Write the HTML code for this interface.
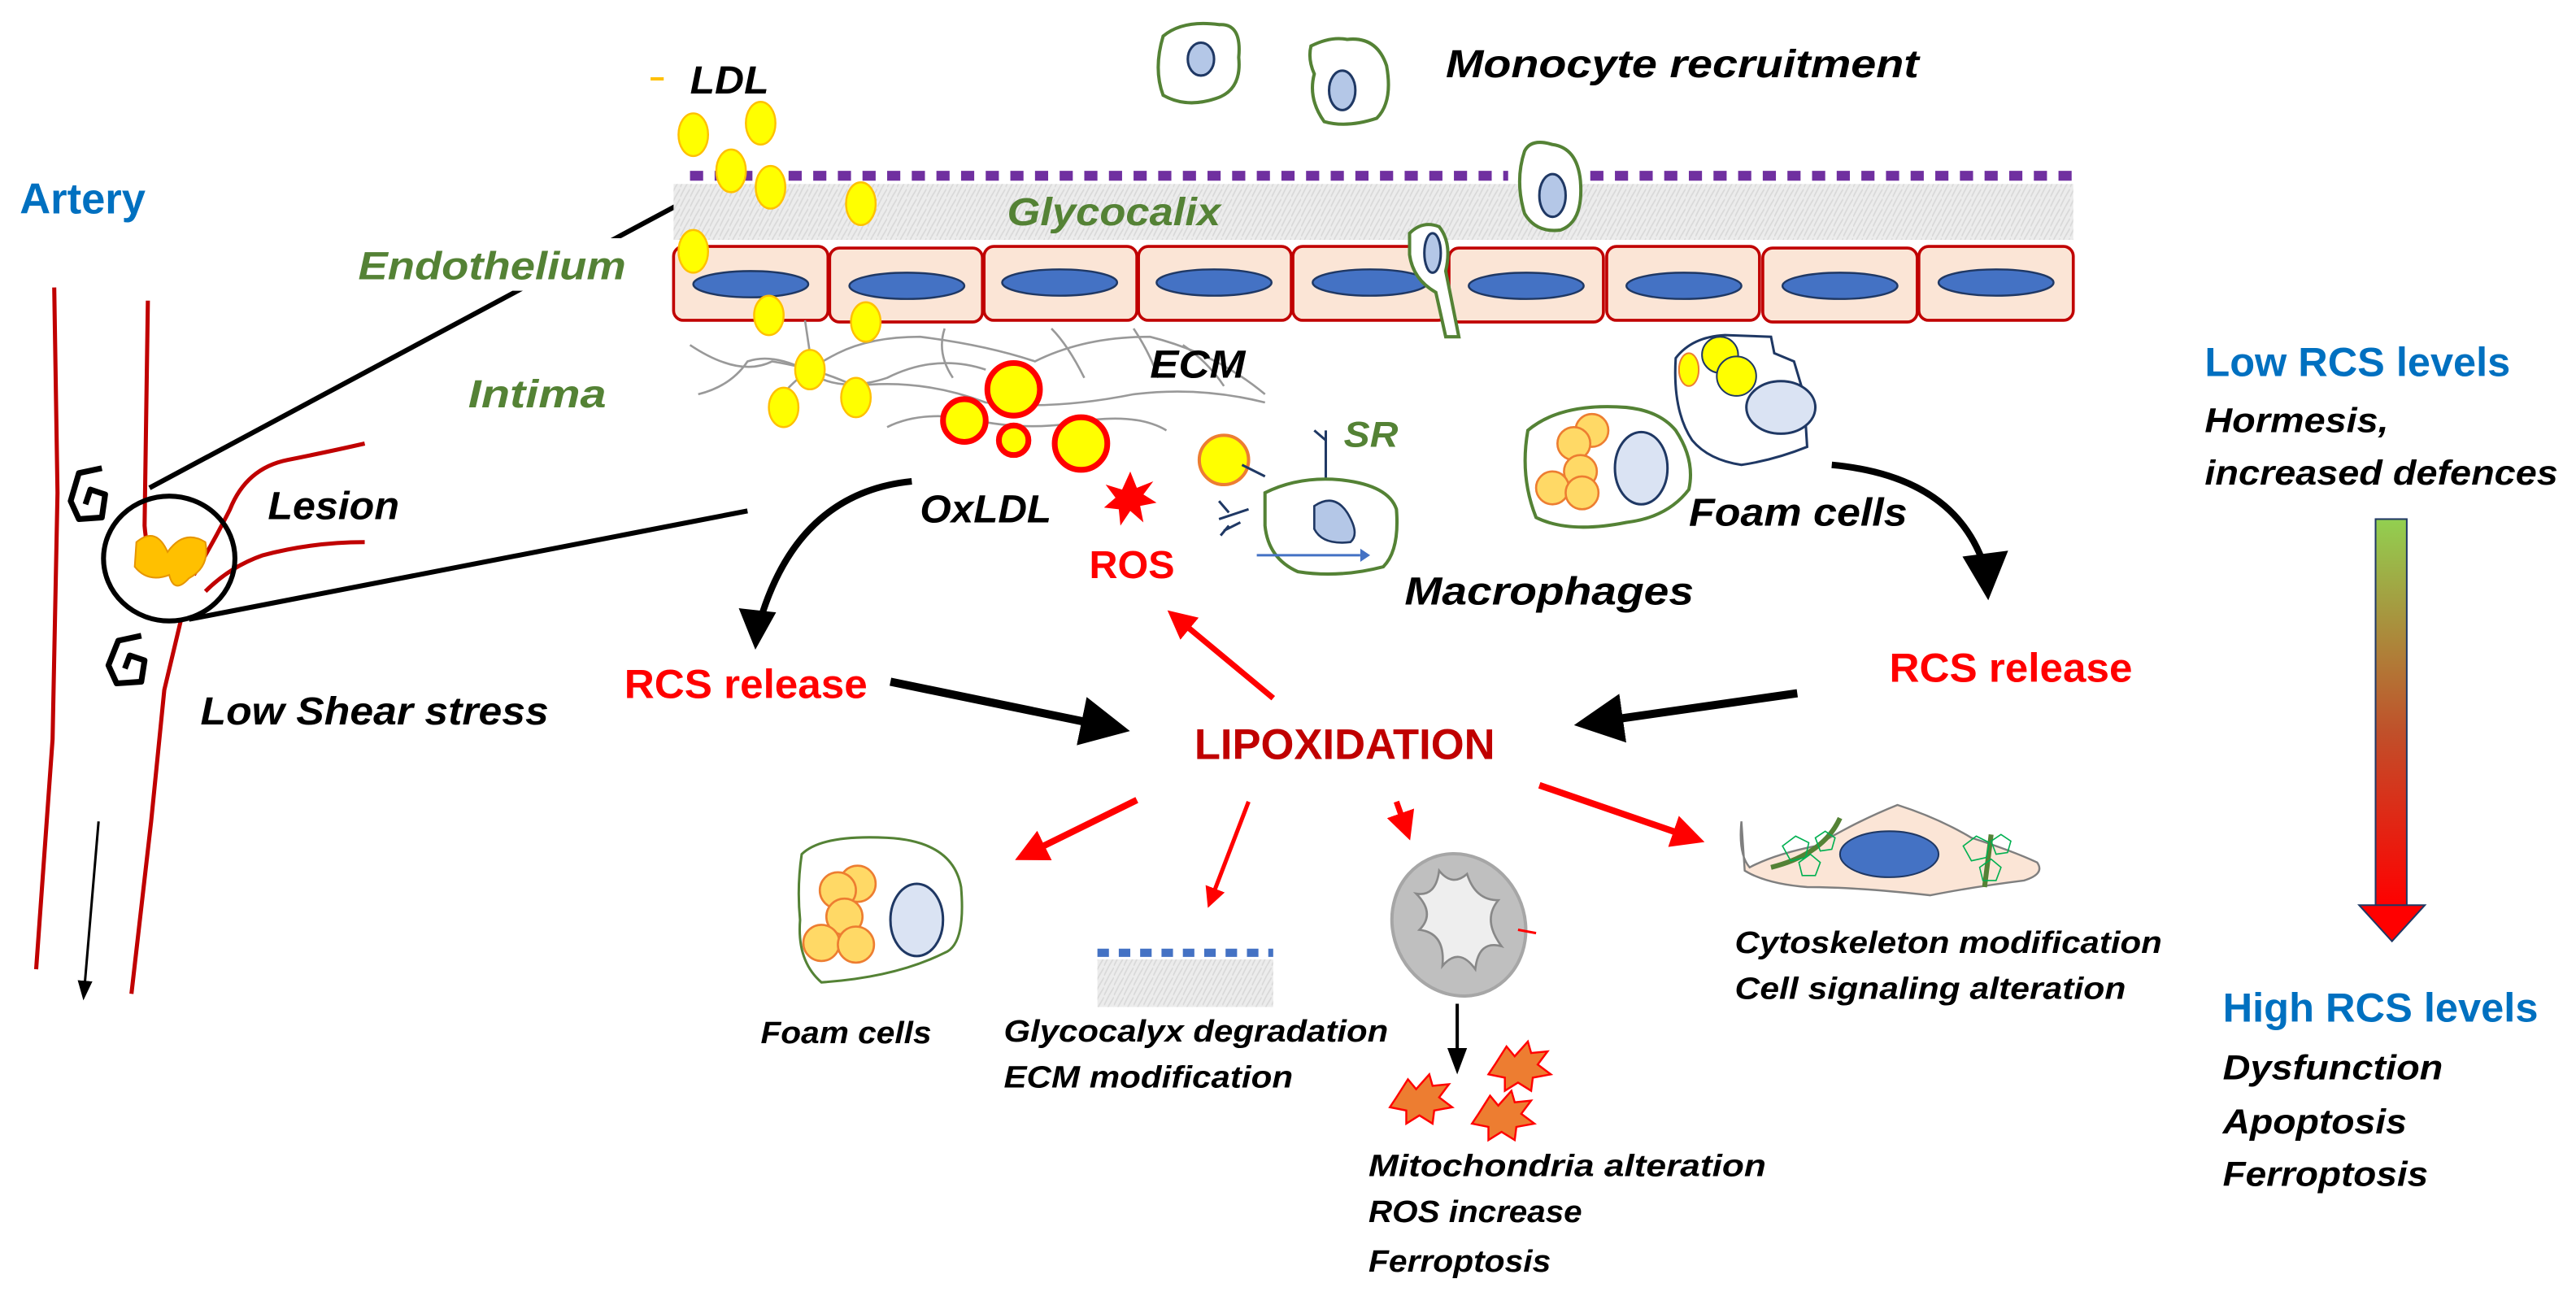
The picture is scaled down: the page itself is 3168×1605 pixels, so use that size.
<!DOCTYPE html>
<html><head><meta charset="utf-8"><style>
html,body{margin:0;padding:0;background:#fff;}
svg{display:block;}
text{font-family:"Liberation Sans",sans-serif;font-weight:bold;}
.bi{font-style:italic;}
</style></head><body>
<svg width="3168" height="1605" viewBox="0 0 1568 794.4" xmlns="http://www.w3.org/2000/svg">
<defs>
<marker id="ab" markerWidth="6" markerHeight="6" refX="4" refY="3" orient="auto" markerUnits="strokeWidth"><path d="M0,0 L6,3 L0,6 Z" fill="#000"/></marker>
<marker id="ar" markerWidth="5" markerHeight="5" refX="3" refY="2.5" orient="auto" markerUnits="strokeWidth"><path d="M0,0 L5,2.5 L0,5 Z" fill="#f00"/></marker>
<marker id="abs" markerWidth="8" markerHeight="8" refX="6" refY="4" orient="auto" markerUnits="strokeWidth"><path d="M0,1 L8,4 L0,7 Z" fill="#000"/></marker>
<linearGradient id="grad" x1="0" y1="0" x2="0" y2="1"><stop offset="0" stop-color="#92D050"/><stop offset="0.55" stop-color="#C0502A"/><stop offset="1" stop-color="#FF0000"/></linearGradient>
<pattern id="gly" width="6" height="6" patternUnits="userSpaceOnUse"><rect width="6" height="6" fill="#ececec"/><path d="M0,6 L3,0 M3,6 L6,1" stroke="#d8d8d8" stroke-width="0.8"/></pattern>
</defs>

<!-- Artery -->
<text x="12" y="130" font-size="26" fill="#0070C0">Artery</text>
<path d="M33,175 L35,300 L32,450 L22,590" stroke="#C00000" stroke-width="2.5" fill="none"/>
<path d="M90,183 L88,320 Q90,345 100,350" stroke="#C00000" stroke-width="2.5" fill="none"/>
<path d="M118,350 Q130,330 140,310 Q150,285 175,280 Q200,275 222,270" stroke="#C00000" stroke-width="2.5" fill="none"/>
<path d="M125,360 Q140,345 160,338 Q190,330 222,330" stroke="#C00000" stroke-width="2.5" fill="none"/>
<path d="M110,378 L100,420 L92,500 L80,605" stroke="#C00000" stroke-width="2.5" fill="none"/>
<path d="M62,285 L48,288 L43,305 L48,316 L62,315 L64,301 L55,298 L52,307" stroke="#000" stroke-width="3.5" fill="none" stroke-linejoin="round"/>
<path d="M86,387 L72,390 L66,405 L71,416 L86,415 L88,402 L79,399 L76,407" stroke="#000" stroke-width="3.5" fill="none" stroke-linejoin="round"/>
<path d="M83,330 Q95,320 102,336 Q112,322 125,330 Q128,345 115,352 Q106,362 103,350 Q90,355 82,345 Z" fill="#FFC000" stroke="#E69500" stroke-width="1"/>
<ellipse cx="103" cy="340" rx="40" ry="38" fill="none" stroke="#000" stroke-width="3"/>
<line x1="91" y1="297" x2="429" y2="116" stroke="#000" stroke-width="3"/>
<line x1="115" y1="377" x2="455" y2="311" stroke="#000" stroke-width="3"/>
<rect x="215" y="145" width="170" height="32" fill="#fff"/>
<text class="bi" x="218" y="170" font-size="24" fill="#548235" textLength="163" lengthAdjust="spacingAndGlyphs">Endothelium</text>
<text class="bi" x="285" y="248" font-size="24" fill="#548235" textLength="84" lengthAdjust="spacingAndGlyphs">Intima</text>
<text class="bi" x="163" y="316" font-size="24" fill="#000" textLength="80" lengthAdjust="spacingAndGlyphs">Lesion</text>
<text class="bi" x="122" y="441" font-size="24" fill="#000" textLength="212" lengthAdjust="spacingAndGlyphs">Low Shear stress</text>
<line x1="60" y1="500" x2="51" y2="606" stroke="#000" stroke-width="1.5" marker-end="url(#abs)"/>

<!-- glycocalix & endothelium -->
<rect x="410" y="112" width="852" height="34" fill="url(#gly)"/>
<line x1="420" y1="107" x2="918" y2="107" stroke="#7030A0" stroke-width="6" stroke-dasharray="8,7"/>
<line x1="968" y1="107" x2="1262" y2="107" stroke="#7030A0" stroke-width="6" stroke-dasharray="8,7"/>
<text class="bi" x="613" y="137" font-size="24" fill="#548235" textLength="130" lengthAdjust="spacingAndGlyphs">Glycocalix</text>
<g fill="#FBE5D6" stroke="#C00000" stroke-width="1.8">
<rect x="410" y="150" width="94" height="45" rx="6"/>
<rect x="505" y="151" width="93" height="45" rx="6"/>
<rect x="599" y="150" width="93" height="45" rx="6"/>
<rect x="693" y="150" width="93" height="45" rx="6"/>
<rect x="787" y="150" width="94" height="45" rx="6"/>
<rect x="882" y="151" width="94" height="45" rx="6"/>
<rect x="978" y="150" width="93" height="45" rx="6"/>
<rect x="1073" y="151" width="94" height="45" rx="6"/>
<rect x="1168" y="150" width="94" height="45" rx="6"/>
</g>
<g fill="#4472C4" stroke="#1F3864" stroke-width="1.2">
<ellipse cx="457" cy="173" rx="35" ry="8"/><ellipse cx="552" cy="174" rx="35" ry="8"/>
<ellipse cx="645" cy="172" rx="35" ry="8"/><ellipse cx="739" cy="172" rx="35" ry="8"/>
<ellipse cx="834" cy="172" rx="35" ry="8"/><ellipse cx="929" cy="174" rx="35" ry="8"/>
<ellipse cx="1025" cy="174" rx="35" ry="8"/><ellipse cx="1120" cy="174" rx="35" ry="8"/>
<ellipse cx="1215" cy="172" rx="35" ry="8"/>
</g>

<!-- monocytes -->
<g fill="#fff" stroke="#548235" stroke-width="2">
<path d="M708,22 Q720,12 742,15 Q756,14 754,35 Q756,55 740,60 Q722,66 708,58 Q702,42 708,22 Z"/>
<path d="M798,28 Q810,22 820,24 Q838,22 844,40 Q848,62 838,72 Q820,78 806,74 Q796,60 800,45 Q796,36 798,28 Z"/>
<path d="M928,92 Q932,84 945,88 Q960,90 962,110 Q964,135 950,140 Q935,142 928,130 Q922,110 928,92 Z"/>
<path d="M858,142 Q866,134 876,138 Q884,148 880,165 L888,205 L880,205 L874,178 Q860,170 858,155 Z"/>
</g>
<g fill="#B4C7E7" stroke="#1F3864" stroke-width="1.5">
<ellipse cx="731" cy="36" rx="8" ry="10"/><ellipse cx="817" cy="55" rx="8" ry="12"/>
<ellipse cx="945" cy="119" rx="8" ry="13"/><ellipse cx="872" cy="154" rx="5" ry="12"/>
</g>
<text class="bi" x="880" y="47" font-size="24" fill="#000" textLength="288" lengthAdjust="spacingAndGlyphs">Monocyte recruitment</text>

<!-- LDL -->
<text class="bi" x="420" y="57" font-size="24" fill="#000" textLength="48" lengthAdjust="spacingAndGlyphs">LDL</text>
<line x1="396" y1="48" x2="404" y2="48" stroke="#FFC000" stroke-width="2"/>
<g stroke="#999" stroke-width="1.3" fill="none">
<path d="M420,210 Q450,230 470,220 Q500,225 520,235 Q560,230 600,245 Q640,250 690,240 Q730,235 770,245"/>
<path d="M425,240 Q445,235 455,220 Q470,215 490,225 Q510,240 540,230 Q570,215 600,225"/>
<path d="M470,250 Q480,230 510,215 Q530,205 560,205 Q600,210 630,220 Q660,205 700,205 Q740,215 770,240"/>
<path d="M540,260 Q560,250 590,255 Q620,262 650,258 Q690,250 710,262"/>
<path d="M490,195 L493,215 M640,200 Q650,210 660,230 M690,200 Q700,215 705,230 M575,200 Q570,215 580,230 M720,210 Q735,220 745,235"/>
</g>
<g fill="#FFFF00" stroke="#FFC000" stroke-width="1.2">
<ellipse cx="422" cy="82" rx="9" ry="13"/><ellipse cx="463" cy="75" rx="9" ry="13"/>
<ellipse cx="445" cy="104" rx="9" ry="13"/><ellipse cx="469" cy="114" rx="9" ry="13"/>
<ellipse cx="524" cy="124" rx="9" ry="13"/><ellipse cx="422" cy="153" rx="9" ry="13"/>
<ellipse cx="468" cy="192" rx="9" ry="12"/><ellipse cx="527" cy="196" rx="9" ry="12"/>
<ellipse cx="493" cy="225" rx="9" ry="12"/><ellipse cx="477" cy="248" rx="9" ry="12"/>
<ellipse cx="521" cy="242" rx="9" ry="12"/>
</g>
<text class="bi" x="700" y="230" font-size="24" fill="#000" textLength="58" lengthAdjust="spacingAndGlyphs">ECM</text>
<g fill="#FFFF00" stroke="#f00" stroke-width="3.5">
<circle cx="617" cy="237" r="16"/><circle cx="587" cy="256" r="13"/>
<circle cx="617" cy="268" r="9"/><circle cx="658" cy="270" r="16"/>
</g>
<text class="bi" x="560" y="318" font-size="24" fill="#000" textLength="80" lengthAdjust="spacingAndGlyphs">OxLDL</text>
<path d="M688,287 L692,297 L702,293 L696,301 L704,306 L694,308 L696,318 L688,311 L682,320 L681,310 L672,309 L679,303 L673,295 L683,298 Z" fill="#f00"/>
<text x="663" y="352" font-size="24" fill="#f00" textLength="52" lengthAdjust="spacingAndGlyphs">ROS</text>

<!-- macrophage SR -->
<circle cx="745" cy="280" r="15" fill="#FFFF00" stroke="#ED7D31" stroke-width="2"/>
<g stroke="#1F3864" stroke-width="1.5" fill="none">
<path d="M756,283 L770,290 M742,316 L760,310 M745,323 L755,318 M807,262 L807,293 M800,262 L807,268 M748,312 L742,305 M748,320 L743,326"/>
</g>
<path d="M770,300 Q790,290 815,292 Q845,295 850,310 Q852,335 842,345 Q815,352 790,348 Q772,340 770,320 Z" fill="#fff" stroke="#548235" stroke-width="2"/>
<path d="M800,308 Q812,300 820,312 Q828,325 822,330 Q805,332 800,322 Z" fill="#B4C7E7" stroke="#1F3864" stroke-width="1.3"/>
<line x1="765" y1="338" x2="828" y2="338" stroke="#4472C4" stroke-width="1.5"/>
<path d="M828,334 L834,338 L828,342 Z" fill="#4472C4"/>
<text class="bi" x="818" y="272" font-size="22" fill="#548235" textLength="33" lengthAdjust="spacingAndGlyphs">SR</text>
<text class="bi" x="855" y="368" font-size="24" fill="#000" textLength="176" lengthAdjust="spacingAndGlyphs">Macrophages</text>

<!-- foam cells upper -->
<path d="M930,262 Q950,245 990,248 Q1010,250 1020,262 Q1032,280 1028,298 Q1015,315 990,318 Q955,325 935,315 Q925,290 930,262 Z" fill="#fff" stroke="#548235" stroke-width="2"/>
<g fill="#FFD966" stroke="#ED7D31" stroke-width="1.3">
<circle cx="969" cy="262" r="10"/><circle cx="958" cy="270" r="10"/><circle cx="962" cy="287" r="10"/><circle cx="945" cy="297" r="10"/><circle cx="963" cy="300" r="10"/>
</g>
<ellipse cx="999" cy="285" rx="16" ry="22" fill="#DAE3F3" stroke="#1F3864" stroke-width="1.5"/>
<path d="M1020,218 Q1030,205 1050,204 L1078,205 L1080,215 L1092,220 L1098,240 L1100,272 Q1080,280 1060,283 Q1040,280 1030,268 Q1018,250 1020,218 Z" fill="#fff" stroke="#1F3864" stroke-width="1.5"/>
<ellipse cx="1028" cy="225" rx="6" ry="10" fill="#FFFF00" stroke="#ED7D31" stroke-width="1"/>
<circle cx="1047" cy="216" r="11" fill="#FFFF00" stroke="#1F3864" stroke-width="1"/>
<circle cx="1057" cy="229" r="12" fill="#FFFF00" stroke="#1F3864" stroke-width="1"/>
<ellipse cx="1084" cy="248" rx="21" ry="16" fill="#DAE3F3" stroke="#1F3864" stroke-width="1.5"/>
<text class="bi" x="1028" y="320" font-size="24" fill="#000" textLength="133" lengthAdjust="spacingAndGlyphs">Foam cells</text>

<!-- curved arrows -->
<path d="M555,293 Q485,300 462,380" stroke="#000" stroke-width="4" fill="none"/>
<path d="M452,372 L470,374 L460,392 Z" fill="#000" stroke="#000" stroke-width="3"/>
<path d="M1115,283 Q1190,290 1208,345" stroke="#000" stroke-width="4" fill="none"/>
<path d="M1197,340 L1220,337 L1210,362 Z" fill="#000" stroke="#000" stroke-width="3"/>

<text x="380" y="425" font-size="25" fill="#f00" textLength="148" lengthAdjust="spacingAndGlyphs">RCS release</text>
<text x="1150" y="415" font-size="25" fill="#f00" textLength="148" lengthAdjust="spacingAndGlyphs">RCS release</text>
<line x1="542" y1="415" x2="678" y2="443" stroke="#000" stroke-width="5" marker-end="url(#ab)"/>
<line x1="1094" y1="422" x2="968" y2="440" stroke="#000" stroke-width="5" marker-end="url(#ab)"/>
<text x="727" y="462" font-size="26" fill="#C00000" textLength="183" lengthAdjust="spacingAndGlyphs">LIPOXIDATION</text>
<line x1="775" y1="425" x2="716" y2="376" stroke="#f00" stroke-width="3.5" marker-end="url(#ar)"/>
<line x1="692" y1="487" x2="625" y2="520" stroke="#f00" stroke-width="4" marker-end="url(#ar)"/>
<line x1="760" y1="488" x2="737" y2="548" stroke="#f00" stroke-width="2.5" marker-end="url(#ar)"/>
<line x1="850" y1="488" x2="856" y2="505" stroke="#f00" stroke-width="3.5" marker-end="url(#ar)"/>
<line x1="937" y1="478" x2="1030" y2="510" stroke="#f00" stroke-width="4" marker-end="url(#ar)"/>

<!-- lower foam cell -->
<path d="M488,520 Q500,508 540,510 Q580,512 585,540 Q588,575 575,580 Q545,595 500,598 Q485,585 487,560 Q485,540 488,520 Z" fill="#fff" stroke="#548235" stroke-width="1.5"/>
<g fill="#FFD966" stroke="#ED7D31" stroke-width="1.3">
<circle cx="522" cy="538" r="11"/><circle cx="510" cy="542" r="11"/><circle cx="514" cy="558" r="11"/><circle cx="500" cy="574" r="11"/><circle cx="521" cy="575" r="11"/>
</g>
<ellipse cx="558" cy="560" rx="16" ry="22" fill="#DAE3F3" stroke="#1F3864" stroke-width="1.5"/>
<text class="bi" x="463" y="635" font-size="19" fill="#000" textLength="104" lengthAdjust="spacingAndGlyphs">Foam cells</text>

<!-- glycocalyx small -->
<rect x="668" y="584" width="107" height="29" fill="url(#gly)"/>
<line x1="668" y1="580" x2="775" y2="580" stroke="#4472C4" stroke-width="5" stroke-dasharray="7,6"/>
<text class="bi" x="611" y="634" font-size="19" fill="#000" textLength="234" lengthAdjust="spacingAndGlyphs">Glycocalyx degradation</text>
<text class="bi" x="611" y="662" font-size="19" fill="#000" textLength="176" lengthAdjust="spacingAndGlyphs">ECM modification</text>

<!-- mitochondrion -->
<ellipse cx="888" cy="563" rx="40" ry="44" transform="rotate(-25 888 563)" fill="#BFBFBF" stroke="#A6A6A6" stroke-width="2"/>
<path d="M876,530 Q884,540 893,532 Q898,548 912,548 Q902,560 914,576 Q900,572 898,590 Q888,576 878,588 Q880,568 864,566 Q874,556 862,544 Q874,546 876,530 Z" fill="#eee" stroke="#888" stroke-width="1.3"/>
<path d="M924,566 L935,568" stroke="#f00" stroke-width="1.5"/>
<line x1="887" y1="611" x2="887" y2="650" stroke="#000" stroke-width="2" marker-end="url(#abs)"/>
<g fill="#ED7D31" stroke="#f00" stroke-width="1.2">
<path d="M850,668 L857,657 L862,663 L870,654 L872,661 L882,660 L876,668 L884,674 L873,676 L872,684 L864,679 L856,684 L856,676 L846,674 Z"/>
<path d="M910,648 L917,637 L922,643 L930,634 L932,641 L942,640 L936,648 L944,654 L933,656 L932,664 L924,659 L916,664 L916,656 L906,654 Z"/>
<path d="M900,678 L907,667 L912,673 L920,664 L922,671 L932,670 L926,678 L934,684 L923,686 L922,694 L914,689 L906,694 L906,686 L896,684 Z"/>
</g>
<text class="bi" x="833" y="716" font-size="19" fill="#000" textLength="242" lengthAdjust="spacingAndGlyphs">Mitochondria alteration</text>
<text class="bi" x="833" y="744" font-size="19" fill="#000" textLength="130" lengthAdjust="spacingAndGlyphs">ROS increase</text>
<text class="bi" x="833" y="774" font-size="19" fill="#000" textLength="111" lengthAdjust="spacingAndGlyphs">Ferroptosis</text>

<!-- cytoskeleton cell -->
<path d="M1060,500 Q1058,520 1065,528 Q1080,520 1105,515 Q1130,500 1155,490 Q1180,498 1200,510 Q1225,518 1240,525 Q1245,532 1232,536 Q1200,540 1175,545 Q1130,540 1100,540 Q1075,538 1062,530 Z" fill="#FBE5D6" stroke="#7F7F7F" stroke-width="1.2"/>
<path d="M1078,528 Q1110,520 1120,498" stroke="#548235" stroke-width="3" fill="none"/>
<path d="M1212,508 L1208,540" stroke="#548235" stroke-width="3" fill="none"/>
<g stroke="#00B050" stroke-width="0.8" fill="none">
<path d="M1085,515 l8,-6 l8,4 l-2,9 l-9,2 z M1095,525 l7,-5 l6,5 l-3,8 l-8,0 z M1105,510 l6,-4 l6,4 l-2,7 l-7,1 z"/>
<path d="M1195,515 l8,-6 l8,4 l-2,9 l-9,2 z M1205,528 l7,-5 l6,5 l-3,8 l-8,0 z M1212,512 l6,-4 l6,4 l-2,7 l-7,1 z"/>
</g>
<ellipse cx="1150" cy="520" rx="30" ry="14" fill="#4472C4" stroke="#1F3864" stroke-width="1"/>
<text class="bi" x="1056" y="580" font-size="19" fill="#000" textLength="260" lengthAdjust="spacingAndGlyphs">Cytoskeleton modification</text>
<text class="bi" x="1056" y="608" font-size="19" fill="#000" textLength="238" lengthAdjust="spacingAndGlyphs">Cell signaling alteration</text>

<!-- right legend -->
<text x="1342" y="229" font-size="25" fill="#0070C0" textLength="186" lengthAdjust="spacingAndGlyphs">Low RCS levels</text>
<text class="bi" x="1342" y="263" font-size="21" fill="#000" textLength="112" lengthAdjust="spacingAndGlyphs">Hormesis,</text>
<text class="bi" x="1342" y="295" font-size="21" fill="#000" textLength="215" lengthAdjust="spacingAndGlyphs">increased defences</text>
<rect x="1446" y="316" width="19" height="236" fill="url(#grad)" stroke="#1F3864" stroke-width="1"/>
<path d="M1436,551 L1476,551 L1456,573 Z" fill="#f00" stroke="#1F3864" stroke-width="1"/>
<text x="1353" y="622" font-size="25" fill="#0070C0" textLength="192" lengthAdjust="spacingAndGlyphs">High RCS levels</text>
<text class="bi" x="1353" y="657" font-size="21" fill="#000" textLength="134" lengthAdjust="spacingAndGlyphs">Dysfunction</text>
<text class="bi" x="1353" y="690" font-size="21" fill="#000" textLength="112" lengthAdjust="spacingAndGlyphs">Apoptosis</text>
<text class="bi" x="1353" y="722" font-size="21" fill="#000" textLength="125" lengthAdjust="spacingAndGlyphs">Ferroptosis</text>
</svg>
</body></html>
